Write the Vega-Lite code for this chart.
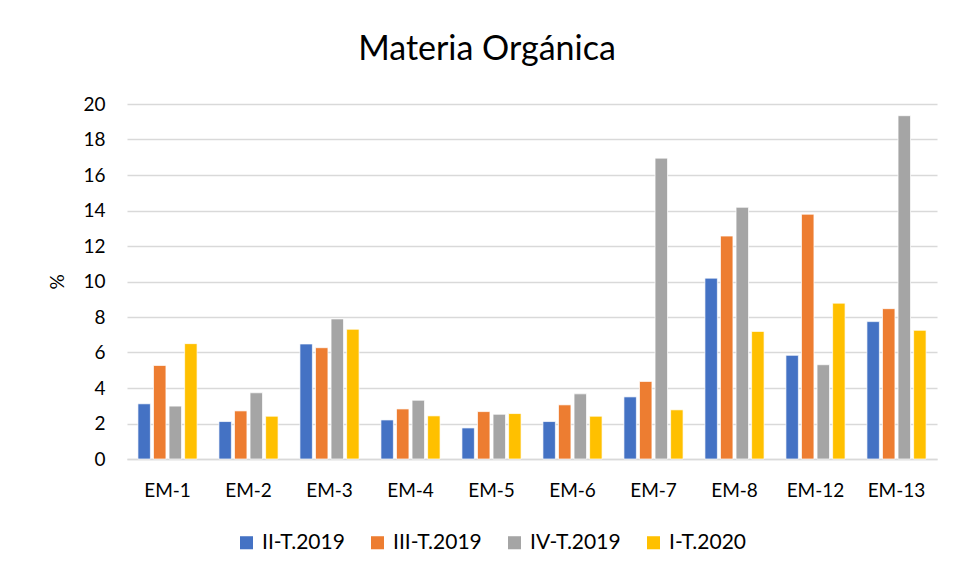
{
  "$schema": "https://vega.github.io/schema/vega-lite/v6.json",
  "autosize": {"type": "none"},
  "padding": {"left": 127, "top": 104, "right": 18, "bottom": 120},
  "width": 810,
  "height": 355,
  "background": "white",
  "title": {"text": "Materia Orgánica", "font": "Lato", "fontSize": 34, "fontWeight": "normal", "color": "#000000", "offset": 28, "anchor": "middle", "dx": -45},
  "config": {"view": {"stroke": null}, "font": "Lato"},
  "data": {"values": [
    {"site": "EM-1", "period": "II-T.2019", "value": 3.11},
    {"site": "EM-1", "period": "III-T.2019", "value": 5.27},
    {"site": "EM-1", "period": "IV-T.2019", "value": 2.98},
    {"site": "EM-1", "period": "I-T.2020", "value": 6.5},
    {"site": "EM-2", "period": "II-T.2019", "value": 2.11},
    {"site": "EM-2", "period": "III-T.2019", "value": 2.71},
    {"site": "EM-2", "period": "IV-T.2019", "value": 3.73},
    {"site": "EM-2", "period": "I-T.2020", "value": 2.41},
    {"site": "EM-3", "period": "II-T.2019", "value": 6.48},
    {"site": "EM-3", "period": "III-T.2019", "value": 6.27},
    {"site": "EM-3", "period": "IV-T.2019", "value": 7.89},
    {"site": "EM-3", "period": "I-T.2020", "value": 7.31},
    {"site": "EM-4", "period": "II-T.2019", "value": 2.2},
    {"site": "EM-4", "period": "III-T.2019", "value": 2.82},
    {"site": "EM-4", "period": "IV-T.2019", "value": 3.31},
    {"site": "EM-4", "period": "I-T.2020", "value": 2.43},
    {"site": "EM-5", "period": "II-T.2019", "value": 1.75},
    {"site": "EM-5", "period": "III-T.2019", "value": 2.67},
    {"site": "EM-5", "period": "IV-T.2019", "value": 2.52},
    {"site": "EM-5", "period": "I-T.2020", "value": 2.56},
    {"site": "EM-6", "period": "II-T.2019", "value": 2.11},
    {"site": "EM-6", "period": "III-T.2019", "value": 3.05},
    {"site": "EM-6", "period": "IV-T.2019", "value": 3.67},
    {"site": "EM-6", "period": "I-T.2020", "value": 2.41},
    {"site": "EM-7", "period": "II-T.2019", "value": 3.5},
    {"site": "EM-7", "period": "III-T.2019", "value": 4.37},
    {"site": "EM-7", "period": "IV-T.2019", "value": 16.95},
    {"site": "EM-7", "period": "I-T.2020", "value": 2.77},
    {"site": "EM-8", "period": "II-T.2019", "value": 10.19},
    {"site": "EM-8", "period": "III-T.2019", "value": 12.56},
    {"site": "EM-8", "period": "IV-T.2019", "value": 14.18},
    {"site": "EM-8", "period": "I-T.2020", "value": 7.19},
    {"site": "EM-12", "period": "II-T.2019", "value": 5.84},
    {"site": "EM-12", "period": "III-T.2019", "value": 13.79},
    {"site": "EM-12", "period": "IV-T.2019", "value": 5.31},
    {"site": "EM-12", "period": "I-T.2020", "value": 8.78},
    {"site": "EM-13", "period": "II-T.2019", "value": 7.74},
    {"site": "EM-13", "period": "III-T.2019", "value": 8.47},
    {"site": "EM-13", "period": "IV-T.2019", "value": 19.34},
    {"site": "EM-13", "period": "I-T.2020", "value": 7.25}
  ]},
  "mark": {"type": "bar", "stroke": "white", "strokeWidth": 0.7},
  "encoding": {
    "x": {
      "field": "site", "type": "nominal", "sort": null,
      "scale": {"paddingInner": 0.27, "paddingOuter": 0.135},
      "axis": {"title": null, "labelAngle": 0, "labelFontSize": 19, "labelColor": "#000000", "labelPadding": 22, "domainColor": "#d9d9d9", "domainWidth": 1.5, "ticks": false}
    },
    "xOffset": {
      "field": "period", "type": "nominal",
      "sort": ["II-T.2019", "III-T.2019", "IV-T.2019", "I-T.2020"],
      "scale": {"paddingInner": 0.2, "paddingOuter": 0}
    },
    "y": {
      "field": "value", "type": "quantitative",
      "scale": {"domain": [0, 20], "nice": false},
      "axis": {"title": "%", "titleFontSize": 19, "titleFontWeight": "normal", "titleColor": "#000000", "titlePadding": 15, "values": [0,2,4,6,8,10,12,14,16,18,20], "labelFontSize": 19, "labelColor": "#000000", "labelPadding": 22, "domain": false, "ticks": false, "gridColor": "#d9d9d9", "gridWidth": 1.5}
    },
    "color": {
      "field": "period", "type": "nominal",
      "sort": ["II-T.2019", "III-T.2019", "IV-T.2019", "I-T.2020"],
      "scale": {"domain": ["II-T.2019", "III-T.2019", "IV-T.2019", "I-T.2020"], "range": ["#4472C4", "#ED7D31", "#A5A5A5", "#FFC000"]},
      "legend": {"title": null, "orient": "none", "legendX": 109, "legendY": 428, "direction": "horizontal", "symbolType": "square", "symbolSize": 170, "symbolStrokeWidth": 0, "labelFontSize": 21, "labelColor": "#000000", "columnPadding": 22, "labelOffset": 5}
    }
  }
}
